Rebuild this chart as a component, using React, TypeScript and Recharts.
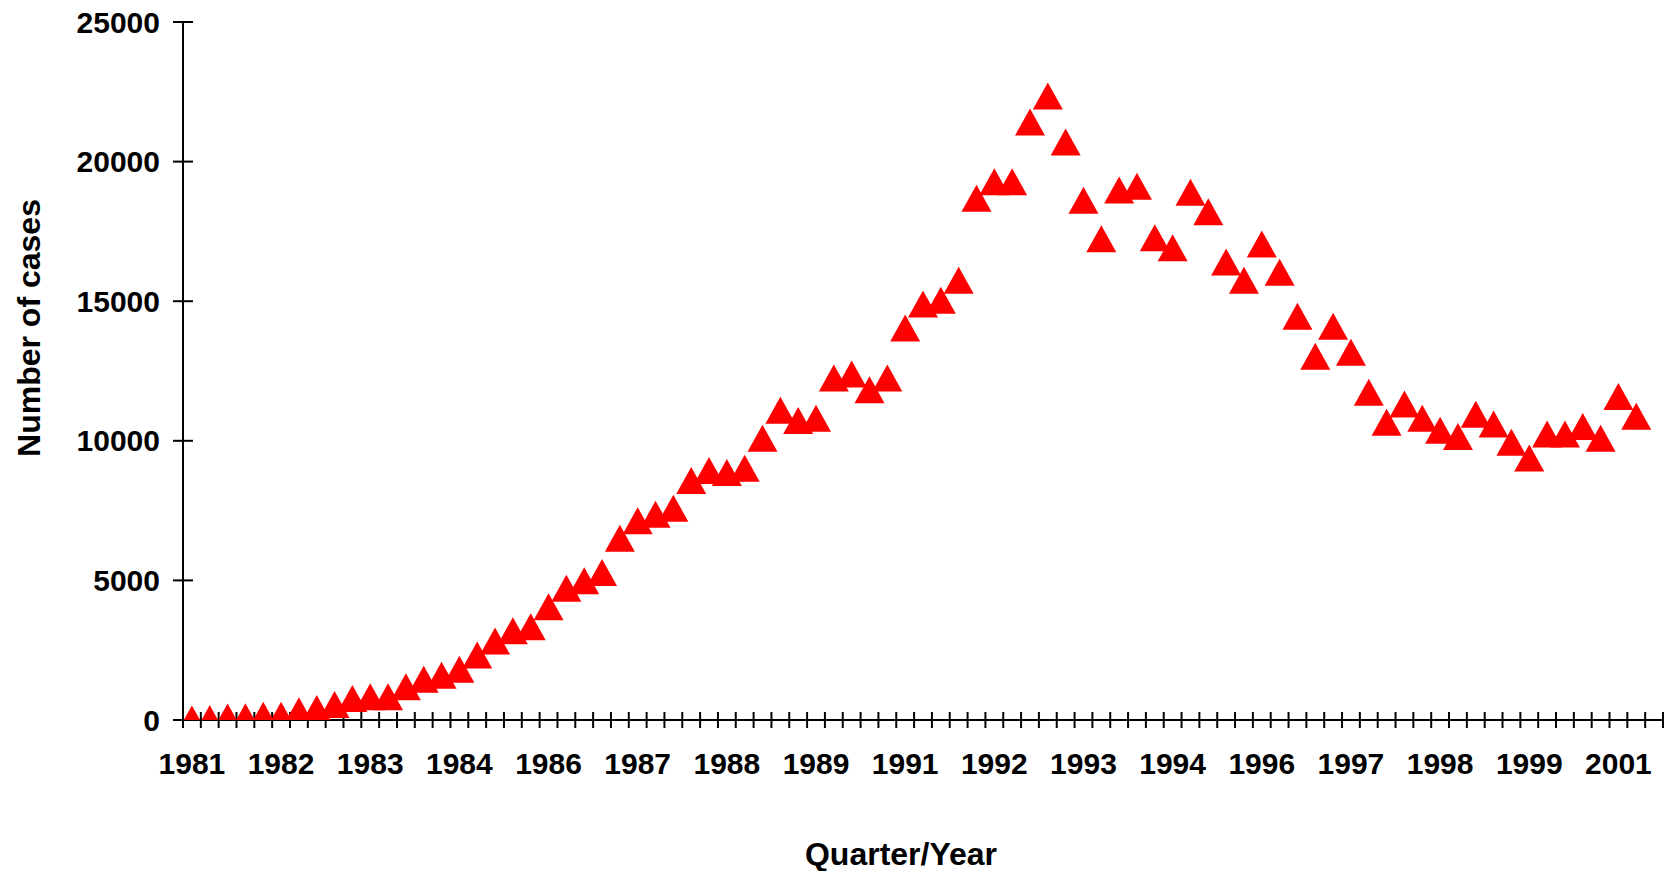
import { Label, Scatter, ScatterChart, XAxis, YAxis } from "recharts";

// quarterly counts, 1981 Q1 .. 2001 Q2
const cases = [
  40, 50, 110, 115, 170, 170, 330, 410, 555, 770,
  830, 830, 1190, 1460, 1605, 1820, 2330, 2830, 3200, 3340,
  4060, 4715, 4990, 5280, 6510, 7140, 7370, 7585, 8580, 8940,
  8865, 9020, 10095, 11090, 10730, 10810, 12250, 12390, 11830, 12250,
  14040, 14900, 15030, 15750, 18690, 19275, 19275, 21415, 22350, 20700,
  18620, 17240, 18980, 19120, 17270, 16910, 18905, 18200, 16405, 15750,
  17050, 16040, 14460, 13025, 14100, 13170, 11735, 10660, 11315, 10810,
  10380, 10155, 10955, 10600, 9950, 9380, 10240, 10240, 10515, 10095,
  11590, 10875,
];

// one label every 5 quarters
const labelYears = [
  "1981", "1982", "1983", "1984", "1986", "1987", "1988", "1989", "1991",
  "1992", "1993", "1994", "1996", "1997", "1998", "1999", "2001",
];

const yTicks = [0, 5000, 10000, 15000, 20000, 25000];
const quarterSlots = 83;

const rows = cases.map((v, i) => ({ q: i + 0.5, cases: v }));
const slotTicks = Array.from({ length: quarterSlots + 1 }, (_, i) => i);
const labelTicks = labelYears.map((_, k) => k * 5 + 0.5);

const font = "'Liberation Sans', Arial, Helvetica, sans-serif";
const tickStyle = { fontSize: 30, fontWeight: 700, fill: "#000", fontFamily: font };
const lineStyle = { stroke: "#000", strokeWidth: 2 };

const NoLabel = () => <g />;
const NoMark = () => <g />;

const Triangle = (props: any) => {
  const { cx, cy } = props;
  if (cx == null || cy == null) return <g />;
  return (
    <polygon
      points={`${cx},${cy - 13.5} ${cx + 15},${cy + 13.5} ${cx - 15},${cy + 13.5}`}
      fill="#ff0000"
    />
  );
};

const YTitle = (props: any) => {
  const { x, y, height } = props.viewBox;
  const cx = x + 29;
  const cy = y + height / 2 - 43;
  return (
    <text
      x={cx}
      y={cy}
      transform={`rotate(-90 ${cx} ${cy})`}
      textAnchor="middle"
      dominantBaseline="central"
      style={{ fontSize: 32, fontWeight: 700, fontFamily: font, fill: "#000" }}
    >
      Number of cases
    </text>
  );
};

const XTitle = (props: any) => {
  const { x, y, width } = props.viewBox;
  return (
    <text
      x={x + width / 2 - 22}
      y={y + 144}
      textAnchor="middle"
      style={{ fontSize: 32, fontWeight: 700, fontFamily: font, fill: "#000" }}
    >
      Quarter/Year
    </text>
  );
};

export default function App() {
  return (
    <div>
      <style>{"body{margin:0;overflow:hidden}"}</style>
      <ScatterChart width={1669} height={871} margin={{ top: 22, right: 6, left: 0, bottom: 0 }}>
        <XAxis
          xAxisId="q"
          type="number"
          dataKey="q"
          domain={[0, quarterSlots]}
          ticks={slotTicks}
          interval={0}
          allowDataOverflow
          height={1}
          tick={NoLabel}
          tickSize={8}
          axisLine={lineStyle}
          tickLine={lineStyle}
        />
        <XAxis
          xAxisId="yr"
          type="number"
          dataKey="q"
          domain={[0, quarterSlots]}
          ticks={labelTicks}
          interval={0}
          allowDataOverflow
          height={150}
          axisLine={false}
          tickLine={false}
          tickSize={8}
          tickMargin={24}
          tick={tickStyle}
          tickFormatter={(v: number) => labelYears[Math.round((v - 0.5) / 5)]}
        >
          <Label content={XTitle} />
        </XAxis>
        <XAxis
          xAxisId="qIn"
          type="number"
          dataKey="q"
          domain={[0, quarterSlots]}
          ticks={slotTicks}
          interval={0}
          allowDataOverflow
          mirror
          height={1}
          tick={NoLabel}
          tickSize={8}
          axisLine={false}
          tickLine={lineStyle}
        />
        <YAxis
          yAxisId="v"
          type="number"
          dataKey="cases"
          domain={[0, 25000]}
          ticks={yTicks}
          interval={0}
          allowDataOverflow
          width={183}
          tickSize={10}
          tickMargin={13}
          tick={tickStyle}
          axisLine={lineStyle}
          tickLine={lineStyle}
        >
          <Label content={YTitle} />
        </YAxis>
        <YAxis
          yAxisId="vIn"
          type="number"
          dataKey="cases"
          domain={[0, 25000]}
          ticks={yTicks}
          interval={0}
          allowDataOverflow
          mirror
          width={1}
          tick={NoLabel}
          tickSize={10}
          axisLine={false}
          tickLine={lineStyle}
        />
        {/* invisible series so the helper axes get scales */}
        <Scatter data={rows} dataKey="cases" xAxisId="yr" yAxisId="vIn" shape={NoMark} isAnimationActive={false} />
        <Scatter data={rows} dataKey="cases" xAxisId="qIn" yAxisId="vIn" shape={NoMark} isAnimationActive={false} />
        <Scatter
          data={rows}
          dataKey="cases"
          xAxisId="q"
          yAxisId="v"
          shape={Triangle}
          isAnimationActive={false}
        />
      </ScatterChart>
    </div>
  );
}
